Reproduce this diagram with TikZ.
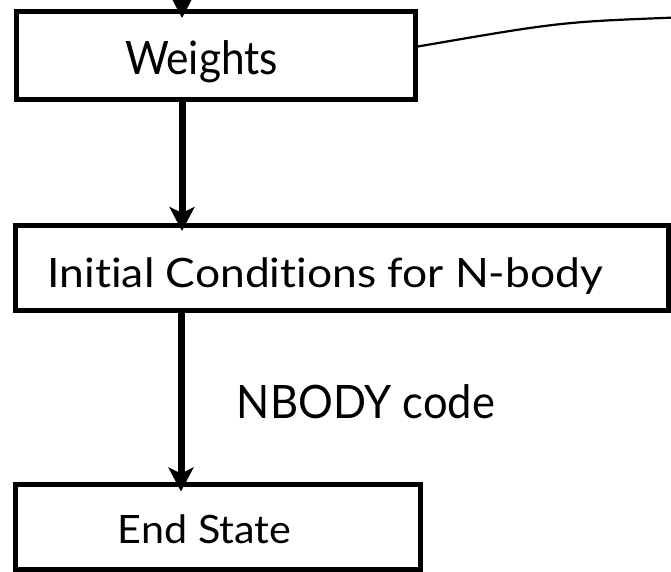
\documentclass[tikz,border=0pt]{standalone}
\usepackage{fontspec}
\setmainfont{Lato}[Ligatures={NoCommon}]
\usetikzlibrary{arrows.meta}
\newcommand{\fittext}[3]{\resizebox{#1}{#2}{\raisebox{0pt}[\fontcharht\font`H][0pt]{#3}}}
\begin{document}
\begin{tikzpicture}[x=1pt,y=-1pt,
  box/.style={draw, line width=5pt, rectangle, inner sep=0pt, outer sep=0pt, text depth=0pt},
  arr/.style={line width=7pt, -{Stealth[length=24pt,width=25pt,inset=6pt]}},
  thinline/.style={line width=2.2pt}]
\useasboundingbox (0,0) rectangle (671,572);
\node[box, minimum width=399pt, minimum height=88pt, text height=39pt] (weights) at (215.5,55.5)
  {\hspace*{-28pt}\fittext{153pt}{33pt}{Weights}};
\node[box, minimum width=653pt, minimum height=84.5pt, text height=38.5pt] (init) at (341.5,267.75)
  {\hspace*{-32pt}\fittext{555pt}{29pt}{Initial Conditions for N-body}};
\node[box, minimum width=405pt, minimum height=85pt, text height=32pt] (end) at (217.5,527)
  {\hspace*{-26pt}\fittext{173pt}{28pt}{End State}};
\node[inner sep=0pt] (lbl) at (366,401.5) {\fittext{258pt}{33pt}{NBODY code}};
\coordinate (top) at (182,-5);
\coordinate (a3) at (181,0);
\coordinate (cend) at (676,17.5);
\draw[thinline] ([yshift=8.5pt]weights.east) .. controls (560,22) .. (cend);
\draw[arr, shorten >=-6.5pt] (top) -- (top |- weights.north);
\draw[arr, shorten >=-5.5pt] (top |- weights.south) -- (top |- init.north);
\draw[arr, shorten >=-7pt] (a3 |- init.south) -- (a3 |- end.north);
\end{tikzpicture}
\end{document}
